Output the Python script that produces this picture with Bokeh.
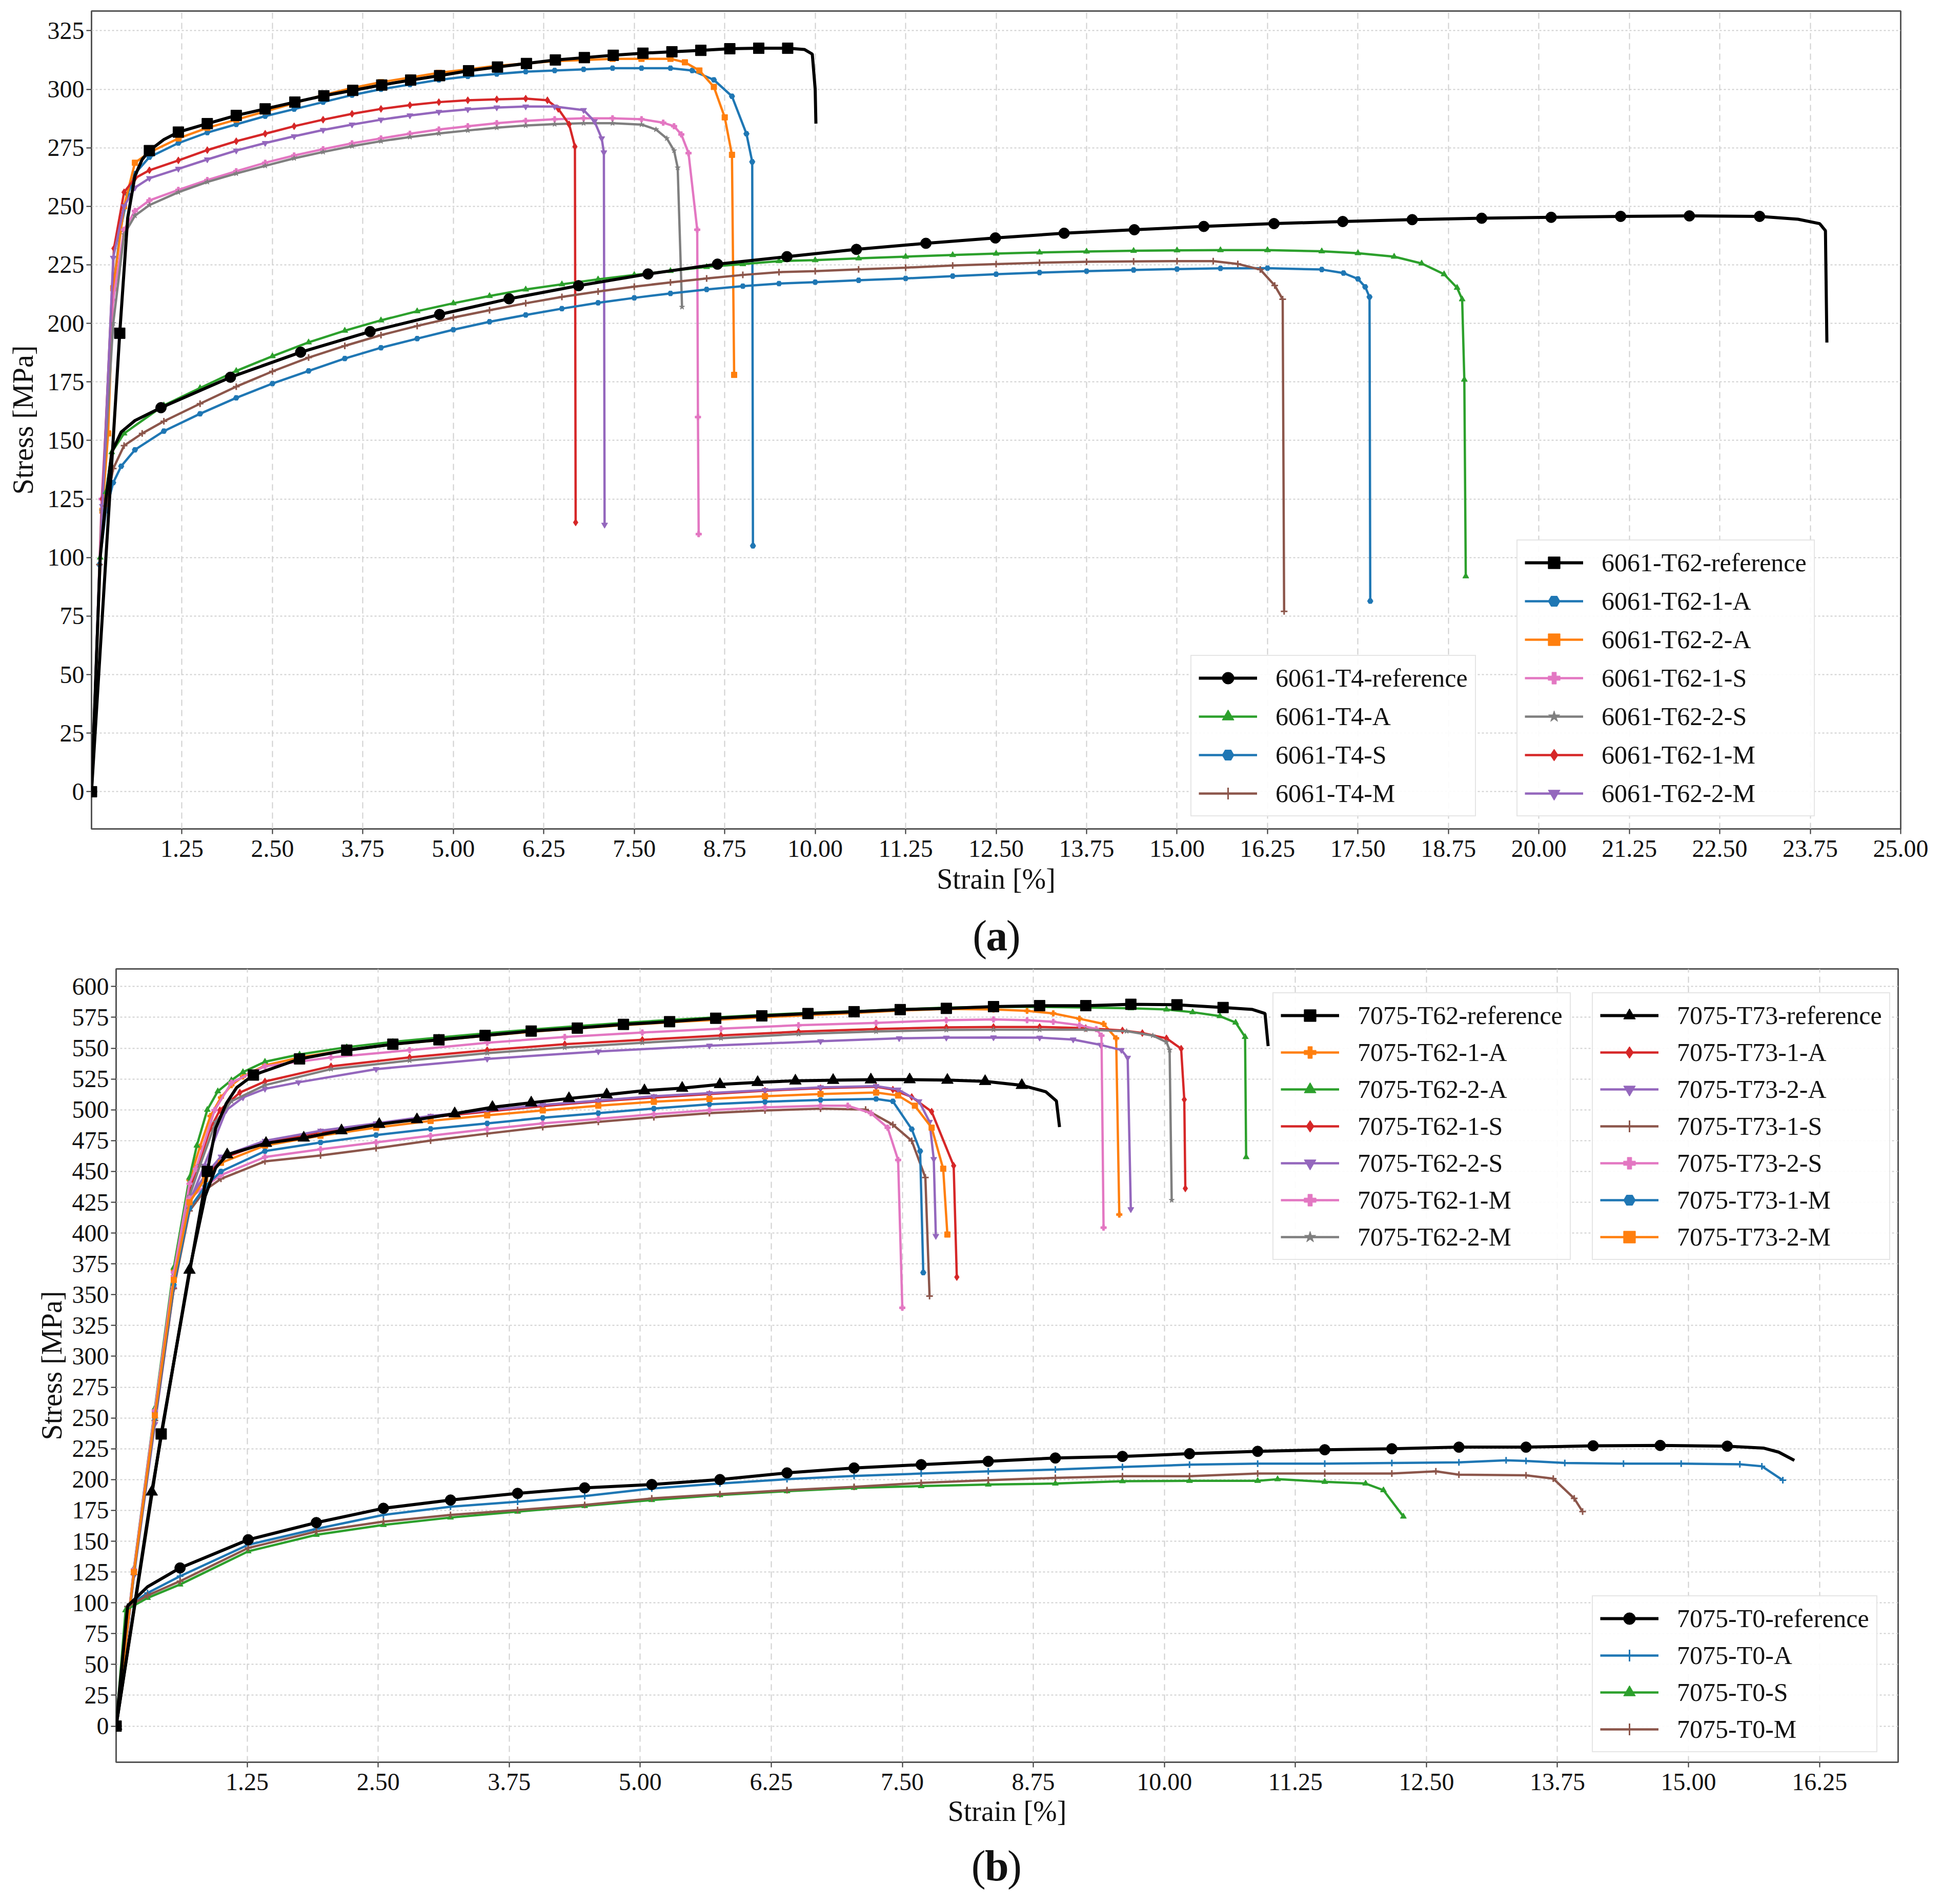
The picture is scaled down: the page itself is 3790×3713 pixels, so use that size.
from bokeh.plotting import figure
from bokeh.models import Range1d, FixedTicker, PrintfTickFormatter, Legend, LegendItem, Spacer
from bokeh.core.properties import value
from bokeh.layouts import column, row
from bokeh.embed import file_html
from bokeh.resources import INLINE

FONT = "Liberation Serif"
C_BLUE, C_ORANGE, C_GREEN, C_RED = "#1f77b4", "#ff7f0e", "#2ca02c", "#d62728"
C_PURPLE, C_BROWN, C_PINK, C_GRAY = "#9467bd", "#8c564b", "#e377c2", "#7f7f7f"

# ---------------- Panel (a): 6061 ----------------
A_XTICKS = [1.25, 2.5, 3.75, 5.0, 6.25, 7.5, 8.75, 10.0, 11.25, 12.5, 13.75, 15.0, 16.25, 17.5, 18.75,
            20.0, 21.25, 22.5, 23.75, 25.0]
A_YTICKS = list(range(0, 326, 25))

T62REF_MX = [0, 0.39, 0.8, 1.2, 1.6, 2.0, 2.4, 2.81, 3.21, 3.61, 4.01, 4.41, 4.81, 5.21, 5.61, 6.01, 6.41,
             6.81, 7.21, 7.62, 8.02, 8.42, 8.82, 9.22, 9.62]
T62REF_MY = [0, 195.8, 273.8, 281.7, 285.3, 288.8, 291.6, 294.5, 297.2, 299.5, 301.8, 303.9, 305.8, 307.9,
             309.5, 311, 312.5, 313.5, 314.5, 315.4, 316, 316.6, 317.3, 317.5, 317.5]
T62REF_X = [0, 0.39, 0.5, 0.6, 0.7, 0.8, 1.0, 1.2, 1.6, 2.0, 2.4, 2.81, 3.21, 3.61, 4.01, 4.41, 4.81, 5.21,
            5.61, 6.01, 6.41, 6.81, 7.21, 7.62, 8.02, 8.42, 8.82, 9.22, 9.62, 9.85, 9.96, 10.0, 10.01]
T62REF_Y = [0, 195.8, 245, 263, 270, 273.8, 278.5, 281.7, 285.3, 288.8, 291.6, 294.5, 297.2, 299.5, 301.8,
            303.9, 305.8, 307.9, 309.5, 311, 312.5, 313.5, 314.5, 315.4, 316, 316.6, 317.3, 317.5, 317.5,
            317, 315, 300, 285.3]

T62_1A_X = [0, 0.15, 0.3, 0.4, 0.5, 0.6, 0.8, 1.2, 1.6, 2.0, 2.4, 2.8, 3.2, 3.6, 4.0, 4.4, 4.8, 5.2, 5.6,
            6.0, 6.4, 6.8, 7.2, 7.6, 8.0, 8.3, 8.6, 8.85, 9.05, 9.13, 9.14]
T62_1A_Y = [0, 125, 215, 240, 255, 264, 271, 277, 281.5, 285, 288.5, 291.5, 294.5, 297.5, 300, 302, 304,
            305.5, 306.5, 307.5, 308, 308.5, 309, 309, 309, 308, 304, 297, 281, 269, 105]

T62_2A_X = [0, 0.15, 0.23, 0.3, 0.45, 0.6, 0.8, 1.2, 1.6, 2.0, 2.4, 2.8, 3.2, 3.6, 4.0, 4.4, 4.8, 5.2, 5.6,
            6.0, 6.4, 6.8, 7.2, 7.6, 8.0, 8.2, 8.4, 8.6, 8.75, 8.85, 8.88]
T62_2A_Y = [0, 120, 153, 215, 250, 268.6, 273, 279, 283.5, 287, 290.5, 294, 297.5, 300.5, 303, 305, 307,
            308.5, 310, 311, 312, 312.5, 313, 313, 313, 311.5, 308, 301, 288, 272, 178]

T62_1S_X = [0, 0.14, 0.3, 0.45, 0.6, 0.8, 1.2, 1.6, 2.0, 2.4, 2.8, 3.2, 3.6, 4.0, 4.4, 4.8, 5.2, 5.6, 6.0,
            6.4, 6.8, 7.2, 7.6, 7.9, 8.05, 8.15, 8.25, 8.37, 8.38, 8.39]
T62_1S_Y = [0, 125, 210, 240, 248, 252.5, 257, 261.2, 265, 268.6, 271.7, 274.4, 276.9, 279, 281, 282.8,
            284.2, 285.5, 286.5, 287.2, 287.6, 287.6, 287.2, 285.7, 284.2, 280.7, 272.7, 240, 160, 110]

T62_2S_X = [0, 0.14, 0.3, 0.45, 0.6, 0.8, 1.2, 1.6, 2.0, 2.4, 2.8, 3.2, 3.6, 4.0, 4.4, 4.8, 5.2, 5.6, 6.0,
            6.4, 6.8, 7.2, 7.6, 7.8, 7.95, 8.05, 8.1, 8.16]
T62_2S_Y = [0, 120, 200, 238, 246, 250.5, 256, 260.4, 264, 267.3, 270.5, 273.2, 275.7, 277.8, 279.6, 281.1,
            282.4, 283.6, 284.5, 285.1, 285.5, 285.5, 284.9, 282.8, 279, 273.8, 266.5, 207]

T62_1M_X = [0, 0.15, 0.31, 0.45, 0.6, 0.8, 1.2, 1.6, 2.0, 2.4, 2.8, 3.2, 3.6, 4.0, 4.4, 4.8, 5.2, 5.6, 6.0,
            6.3, 6.45, 6.6, 6.68, 6.69]
T62_1M_Y = [0, 125, 232, 256, 262, 265.4, 269.6, 274, 277.8, 281, 284.2, 287, 289.5, 291.6, 293.2, 294.5,
            295.3, 295.7, 296, 295.3, 291.6, 285, 275.5, 115]

T62_2M_X = [0, 0.15, 0.3, 0.45, 0.6, 0.8, 1.2, 1.6, 2.0, 2.4, 2.8, 3.2, 3.6, 4.0, 4.4, 4.8, 5.2, 5.6, 6.0,
            6.4, 6.8, 6.95, 7.05, 7.08, 7.09]
T62_2M_Y = [0, 122, 228, 250, 258, 262, 266, 270, 273.8, 277, 279.9, 282.6, 284.9, 287, 288.8, 290.3,
            291.4, 292.2, 292.6, 292.6, 291.1, 286.3, 279, 273, 114]

T4REF_MX = [0, 0.96, 1.92, 2.89, 3.85, 4.81, 5.77, 6.73, 7.69, 8.65, 9.61, 10.57, 11.53, 12.49, 13.44,
            14.41, 15.37, 16.34, 17.29, 18.25, 19.21, 20.17, 21.13, 22.08, 23.05]
T4REF_MY = [0, 164, 177, 187.7, 196.5, 203.8, 210.5, 216.1, 221.1, 225.3, 228.5, 231.6, 234.2, 236.5,
            238.5, 240, 241.4, 242.6, 243.5, 244.3, 244.9, 245.3, 245.7, 245.9, 245.7]
T4REF_X = [0, 0.12, 0.2, 0.28, 0.41, 0.6] + T4REF_MX[1:] + [23.58, 23.88, 23.96, 23.98]
T4REF_Y = [0, 100, 125, 145, 153.6, 158.5] + T4REF_MY[1:] + [244.5, 242.6, 239.6, 191.8]

T4A_X = [0, 0.12, 0.2, 0.28, 0.45, 1.0, 1.5, 2.0, 2.5, 3.0, 3.5, 4.0, 4.5, 5.0, 5.5, 6.0, 6.5, 7.0, 7.5,
         8.0, 8.5, 9.0, 9.5, 10.0, 10.6, 11.25, 11.9, 12.5, 13.1, 13.75, 14.4, 15.0, 15.6, 16.25, 17.0,
         17.5, 18.0, 18.38, 18.69, 18.87, 18.94, 18.97, 18.99]
T4A_Y = [0, 100, 128, 145, 153, 165, 172.4, 179.7, 186, 191.9, 196.9, 201.3, 205.2, 208.6, 211.7, 214.5,
         216.7, 218.8, 220.7, 222.4, 224.1, 225.3, 226.6, 227, 227.8, 228.5, 229.2, 229.8, 230.3, 230.7,
         231, 231.2, 231.3, 231.3, 230.8, 230, 228.5, 225.6, 221, 215.2, 210.3, 176, 92]

T4S_X = [0, 0.11, 0.2, 0.3, 0.41, 0.6, 1.0, 1.5, 2.0, 2.5, 3.0, 3.5, 4.0, 4.5, 5.0, 5.5, 6.0, 6.5, 7.0,
         7.5, 8.0, 8.5, 9.0, 9.5, 10.0, 10.6, 11.25, 11.9, 12.5, 13.1, 13.75, 14.4, 15.0, 15.6, 16.25,
         17.0, 17.3, 17.5, 17.6, 17.66, 17.67]
T4S_Y = [0, 97, 120, 132, 139, 146, 154, 161.4, 168.2, 174.3, 179.7, 185, 189.6, 193.5, 197.3, 200.7,
         203.6, 206.3, 208.8, 210.9, 212.8, 214.5, 215.9, 217, 217.6, 218.4, 219.2, 220.2, 221, 221.7,
         222.3, 222.8, 223.2, 223.5, 223.6, 223, 221.5, 219, 215.6, 211.3, 81.4]

T4M_X = [0, 0.11, 0.2, 0.3, 0.45, 0.7, 1.0, 1.5, 2.0, 2.5, 3.0, 3.5, 4.0, 4.5, 5.0, 5.5, 6.0, 6.5, 7.0,
         7.5, 8.0, 8.5, 9.0, 9.5, 10.0, 10.6, 11.25, 11.9, 12.5, 13.1, 13.75, 14.4, 15.0, 15.5, 15.84,
         16.15, 16.35, 16.46, 16.48]
T4M_Y = [0, 97, 122, 138, 147.8, 153, 158.2, 165.7, 173, 179.5, 185.4, 190.4, 195, 198.9, 202.5, 205.6,
         208.6, 211.3, 213.6, 215.7, 217.5, 219.2, 220.7, 221.9, 222.3, 223.1, 223.8, 224.7, 225.3, 225.9,
         226.3, 226.5, 226.6, 226.6, 225.4, 223, 216.2, 210.3, 77]

# ---------------- Panel (b): 7075 ----------------
B_XTICKS = [1.25, 2.5, 3.75, 5.0, 6.25, 7.5, 8.75, 10.0, 11.25, 12.5, 13.75, 15.0, 16.25]
B_YTICKS = list(range(0, 601, 25))

B62REF_MX = [0, 0.43, 0.87, 1.31, 1.75, 2.2, 2.64, 3.08, 3.52, 3.96, 4.4, 4.84, 5.28, 5.72, 6.16, 6.6,
             7.04, 7.48, 7.92, 8.37, 8.81, 9.25, 9.68, 10.12, 10.56]
B62REF_MY = [0, 237, 450, 528.2, 541.3, 548.4, 553.2, 556.8, 560.3, 563.9, 566.3, 569.3, 571.5, 574.3,
             576.2, 578.1, 579.6, 581.3, 582.3, 583.7, 584.5, 584.5, 585.6, 585.2, 583]
B62REF_X = [0, 0.43, 0.87, 0.95, 1.05, 1.15] + B62REF_MX[3:] + [10.84, 10.96, 10.99]
B62REF_Y = [0, 237, 450, 485, 505, 518] + B62REF_MY[3:] + [581.4, 578.2, 551.7]

B62_1A_X = [0, 0.17, 0.37, 0.55, 0.7, 0.8, 0.9, 1.0, 1.1, 1.21, 1.42, 1.75, 2.2, 2.64, 3.08, 3.52, 3.96,
            4.4, 4.84, 5.28, 5.72, 6.16, 6.6, 7.04, 7.47, 7.92, 8.37, 8.69, 8.94, 9.19, 9.42, 9.54, 9.57]
B62_1A_Y = [0, 126, 255, 370, 443, 470, 495, 510, 520, 527, 536, 542.5, 548.5, 553, 556.5, 560, 563.3,
            566, 568.6, 571, 573, 575, 576.8, 578.5, 580.5, 581.8, 581.4, 580.3, 578.2, 573.9, 569.7, 558, 415]

B62_2A_X = [0, 0.17, 0.37, 0.55, 0.7, 0.77, 0.87, 0.97, 1.1, 1.21, 1.42, 1.75, 2.2, 2.64, 3.08, 3.52, 3.96,
            4.4, 4.84, 5.28, 5.72, 6.16, 6.6, 7.04, 7.48, 7.92, 8.37, 8.81, 9.25, 9.68, 10.02, 10.27, 10.53,
            10.68, 10.77, 10.78]
B62_2A_Y = [0, 128, 258, 372, 445, 471, 500, 515, 524, 530.6, 539, 544.9, 550.8, 555.1, 558.7, 562, 565.1,
            567.9, 570.5, 572.9, 575, 577, 578.6, 580, 581.5, 582.9, 583.5, 583.5, 583, 582.4, 581.4, 579.2,
            576, 570.8, 559.1, 461.6]

B62_1S_X = [0, 0.17, 0.37, 0.55, 0.7, 0.78, 0.9, 0.99, 1.18, 1.42, 2.05, 2.8, 3.54, 4.28, 5.02, 5.77, 6.51,
            7.25, 7.92, 8.37, 8.81, 9.25, 9.6, 9.79, 10.02, 10.16, 10.19, 10.2]
B62_1S_Y = [0, 125, 252, 365, 435, 454.6, 485, 499.7, 514, 523, 535.3, 542.5, 548.4, 553.2, 556.8, 560.3,
            563.4, 565.5, 566.9, 567.2, 567.2, 566.3, 564.4, 562.3, 558, 549.6, 508.3, 436.2]

B62_2S_X = [0, 0.17, 0.37, 0.55, 0.7, 0.84, 1.05, 1.21, 1.42, 1.74, 2.48, 3.54, 4.6, 5.66, 6.72, 7.47, 7.92,
            8.37, 8.81, 9.13, 9.39, 9.59, 9.65, 9.68]
B62_2S_Y = [0, 122, 245, 355, 425, 454.6, 499.7, 510, 517, 522.3, 533, 541.3, 547.3, 552, 555.6, 558,
            558.5, 558.7, 558.5, 557, 552.7, 548.5, 542.2, 419.3]

B62_1M_X = [0, 0.17, 0.37, 0.55, 0.7, 0.76, 0.94, 1.1, 1.42, 2.05, 2.8, 3.54, 4.28, 5.02, 5.77, 6.51, 7.25,
            7.92, 8.37, 8.69, 8.94, 9.19, 9.35, 9.4, 9.42]
B62_1M_Y = [0, 127, 256, 368, 440, 452, 499.7, 522, 535.3, 542.5, 548.4, 554.4, 559.1, 562.7, 565.8, 568.6,
            570.5, 572.7, 573.3, 572.7, 571.4, 568.6, 565.5, 560.2, 404.4]

B62_2M_X = [0, 0.17, 0.37, 0.55, 0.7, 0.8, 0.95, 1.1, 1.42, 2.05, 2.8, 3.54, 4.28, 5.02, 5.77, 6.51, 7.25,
            7.92, 8.37, 8.81, 9.25, 9.64, 9.89, 10.02, 10.05, 10.07]
B62_2M_Y = [0, 124, 250, 362, 430, 455, 490, 507, 520, 533, 540, 546, 550.5, 554.4, 558, 561.5, 563.5,
            564.8, 565, 565, 565, 563.8, 560.2, 554.9, 548.5, 426.7]

B73REF_MX = [0, 0.34, 0.70, 1.06, 1.43, 1.79, 2.15, 2.51, 2.87, 3.23, 3.59, 3.96, 4.32, 4.68, 5.04, 5.40,
             5.76, 6.12, 6.48, 6.84, 7.20, 7.57, 7.93, 8.29, 8.64]
B73REF_MY = [0, 190, 370, 463.6, 472.9, 477.2, 483.1, 488.3, 492.1, 496.9, 502.1, 505.7, 509.2, 512.3,
             515.6, 517.6, 520.6, 522.3, 523.5, 524, 524.4, 524.5, 524.1, 523.1, 519.9]
B73REF_X = [0, 0.34, 0.70, 0.85, 0.95] + B73REF_MX[3:] + [8.87, 8.97, 9.0]
B73REF_Y = [0, 190, 370, 430, 453] + B73REF_MY[3:] + [514.6, 507.2, 486]

B73_1A_X = [0, 0.17, 0.37, 0.55, 0.7, 0.85, 1.0, 1.42, 1.95, 2.48, 3.0, 3.54, 4.07, 4.6, 5.13, 5.66, 6.19,
            6.72, 7.25, 7.41, 7.59, 7.78, 7.99, 8.02]
B73_1A_Y = [0, 125, 252, 362, 425, 445, 460, 473.6, 482, 487.9, 494, 498.5, 503, 506.9, 510, 512.8, 515.5,
            517.6, 518.7, 516.4, 510.4, 498.5, 454.6, 364.3]

B73_2A_X = [0, 0.17, 0.37, 0.55, 0.7, 0.85, 1.0, 1.42, 1.95, 2.48, 3.0, 3.54, 4.07, 4.6, 5.13, 5.66, 6.19,
            6.72, 7.25, 7.46, 7.66, 7.76, 7.8, 7.82]
B73_2A_Y = [0, 126, 254, 364, 428, 447, 462, 474.8, 483, 489, 495, 499.5, 504, 507.5, 511, 513.5, 516,
            518.2, 519.2, 516.4, 506.9, 490.2, 460, 397.6]

B73_1S_X = [0, 0.17, 0.37, 0.55, 0.7, 0.85, 1.0, 1.42, 1.95, 2.48, 3.0, 3.54, 4.07, 4.6, 5.13, 5.66, 6.19,
            6.72, 7.15, 7.41, 7.59, 7.72, 7.76]
B73_1S_Y = [0, 123, 248, 355, 418, 435, 444, 458.2, 463, 468.8, 475, 480.7, 486, 490.2, 494, 497.3, 499.5,
            500.9, 500.2, 487.9, 474.8, 445.1, 348.9]

B73_2S_X = [0, 0.17, 0.37, 0.55, 0.7, 0.85, 1.0, 1.42, 1.95, 2.48, 3.0, 3.54, 4.07, 4.6, 5.13, 5.66, 6.19,
            6.72, 6.98, 7.20, 7.36, 7.46, 7.50]
B73_2S_Y = [0, 127, 256, 365, 428, 438, 447, 461.7, 468, 473.6, 479, 484.3, 489, 492.6, 496.5, 499.7, 502,
            503.3, 503.3, 497.3, 485.5, 459.3, 339.4]

B73_1M_X = [0, 0.17, 0.37, 0.55, 0.7, 0.85, 1.0, 1.42, 1.95, 2.48, 3.0, 3.54, 4.07, 4.6, 5.13, 5.66, 6.19,
            6.72, 7.25, 7.41, 7.59, 7.67, 7.70]
B73_1M_Y = [0, 124, 250, 358, 420, 438, 450, 466.5, 473.5, 479.5, 484.5, 489, 493.5, 497.3, 501, 504.5,
            506.5, 508, 508.8, 506.9, 484.3, 466.5, 367.9]

B73_2M_X = [0, 0.17, 0.37, 0.55, 0.7, 0.85, 1.0, 1.42, 1.95, 2.48, 3.0, 3.54, 4.07, 4.6, 5.13, 5.66, 6.19,
            6.72, 7.25, 7.46, 7.62, 7.78, 7.89, 7.93]
B73_2M_Y = [0, 125, 252, 362, 425, 444, 457, 471, 479, 485.5, 491, 495.5, 499.5, 503.3, 506.5, 508.8, 511,
            512.8, 514, 511.6, 503.3, 485.5, 452.2, 398.8]

B0REF_MX = [0, 0.61, 1.26, 1.91, 2.55, 3.19, 3.83, 4.47, 5.11, 5.76, 6.40, 7.04, 7.68, 8.32, 8.96, 9.60,
            10.24, 10.89, 11.53, 12.17, 12.81, 13.45, 14.09, 14.73, 15.37]
B0REF_MY = [0, 128.3, 151.2, 165.1, 176.7, 183.4, 188.8, 193.3, 196, 200, 205.4, 209.4, 212.1, 214.8,
            217.5, 218.8, 221, 222.9, 224.2, 225, 226.3, 226.3, 227.4, 227.7, 227.1]
B0REF_X = [0, 0.11, 0.3] + B0REF_MX[1:] + [15.72, 15.86, 16.01]
B0REF_Y = [0, 97.5, 113] + B0REF_MY[1:] + [225.5, 222.3, 215.6]

B0A_X = [0, 0.11, 0.3, 0.61, 1.26, 1.91, 2.55, 3.19, 3.83, 4.47, 5.11, 5.76, 6.40, 7.04, 7.68, 8.32, 8.96,
         9.60, 10.24, 10.89, 11.53, 12.17, 12.81, 13.26, 13.45, 13.82, 14.38, 14.93, 15.49, 15.70, 15.90]
B0A_Y = [0, 97, 108, 121.6, 147.1, 160, 171.3, 178, 182, 186.6, 192.8, 196.8, 200.3, 203, 204.9, 206.7,
         208.1, 210.2, 212.1, 212.9, 212.9, 213.5, 214, 215.6, 215.1, 213.5, 212.9, 212.9, 212.4, 210.8, 199.5]

B0S_X = [0, 0.09, 0.3, 0.61, 1.26, 1.91, 2.55, 3.19, 3.83, 4.47, 5.11, 5.76, 6.40, 7.04, 7.68, 8.32, 8.96,
         9.60, 10.24, 10.89, 11.08, 11.53, 11.92, 12.09, 12.28]
B0S_Y = [0, 94, 104, 114.9, 141.8, 155.2, 163.2, 169.2, 174, 178.6, 183.4, 187.4, 190.6, 193.3, 194.7, 196,
         196.8, 198.7, 199, 199, 200.3, 198.2, 196.8, 191.4, 170]

B0M_X = [0, 0.11, 0.3, 0.61, 1.26, 1.91, 2.55, 3.19, 3.83, 4.47, 5.11, 5.76, 6.40, 7.04, 7.68, 8.32, 8.96,
         9.60, 10.24, 10.89, 11.53, 12.17, 12.59, 12.81, 13.45, 13.71, 13.91, 13.99]
B0M_Y = [0, 97, 106, 117.6, 144.5, 157.9, 165.9, 171.3, 175.3, 179.4, 184.7, 188.2, 191.4, 194.1, 197.3,
         199.5, 201.4, 202.7, 202.7, 204.9, 204.9, 204.9, 206.7, 204, 203.5, 200.8, 184.7, 174]


def make_fig(width, height, xr, yr, xticks, yticks, borders, ylab_standoff, xlab_standoff):
    p = figure(width=width, height=height, x_range=Range1d(*xr), y_range=Range1d(*yr),
               output_backend="svg", toolbar_location=None,
               min_border_left=borders[0], min_border_right=borders[1],
               min_border_top=borders[2], min_border_bottom=borders[3])
    p.xaxis.ticker = FixedTicker(ticks=xticks)
    p.yaxis.ticker = FixedTicker(ticks=yticks)
    p.xaxis.formatter = PrintfTickFormatter(format="%.2f")
    p.xaxis.axis_label = "Strain [%]"
    p.yaxis.axis_label = "Stress [MPa]"
    for ax in (p.xaxis[0], p.yaxis[0]):
        ax.axis_label_text_font = FONT
        ax.axis_label_text_font_size = "56px"
        ax.axis_label_text_font_style = "normal"
        ax.major_label_text_font = FONT
        ax.major_label_text_font_size = "48px"
        ax.major_label_text_color = "#111111"
        ax.axis_label_text_color = "#111111"
        ax.major_tick_out = 10
        ax.major_tick_in = 0
        ax.major_tick_line_width = 2
        ax.major_tick_line_color = "#333333"
        ax.minor_tick_line_color = None
        ax.axis_line_color = None
    p.xaxis.major_label_standoff = 12
    p.xaxis.axis_label_standoff = xlab_standoff
    p.yaxis.major_label_standoff = 4
    p.yaxis.axis_label_standoff = ylab_standoff
    p.xgrid.grid_line_color = "#d0d0d0"
    p.xgrid.grid_line_dash = "12 8"
    p.xgrid.grid_line_width = 2
    p.ygrid.grid_line_color = "#d0d0d0"
    p.ygrid.grid_line_dash = "4 4"
    p.ygrid.grid_line_width = 2
    p.outline_line_color = "#555555"
    p.outline_line_width = 3
    p.background_fill_color = "white"
    return p


def series(p, x, y, color, marker, size, lw, mx=None, my=None):
    r1 = p.line(x, y, line_color=color, line_width=lw)
    if mx is None:
        mx, my = x, y
    mlw = 3 if marker in ("cross", "x") else 1
    r2 = p.scatter(mx, my, marker=marker, size=size, fill_color=color, line_color=color, line_width=mlw)
    return [r1, r2]


def legend(p, items, loc, spacing):
    lg = Legend(items=[LegendItem(label=l, renderers=r) for l, r in items], location=loc,
                label_text_font=FONT, label_text_font_size="50px", label_text_color="#111111",
                glyph_width=114, glyph_height=58, label_height=58, label_standoff=36,
                padding=14, spacing=spacing, margin=0,
                border_line_color="#cccccc", border_line_width=2,
                background_fill_color="white", background_fill_alpha=0.9)
    p.add_layout(lg, "center")


def caption_fig(letter, height, y_mid, letter_w, x_center=1887, width=3774):
    c = figure(width=width, height=height, x_range=Range1d(0, width), y_range=Range1d(0, height),
               x_axis_type=None, y_axis_type=None, output_backend="svg", toolbar_location=None,
               min_border_left=0, min_border_right=0, min_border_top=0, min_border_bottom=0)
    c.outline_line_color = None
    pw = 28
    x0 = x_center - (2 * pw + letter_w) / 2
    kw = dict(text_font=value(FONT), text_font_size="84px", text_color="#111111",
              text_baseline="middle", text_align="left")
    c.text(x=[x0, x0 + pw + letter_w], y=[y_mid, y_mid], text=["(", ")"], text_font_style="normal", **kw)
    c.text(x=[x0 + pw], y=[y_mid], text=[letter], text_font_style="bold", **kw)
    return c


# ---- Panel (a)
pa = make_fig(3774, 1766, (0, 25), (-15.9, 333.4), A_XTICKS, A_YTICKS, (178, 67, 21, 150), 14, 9)
SM, BG, LW, LWR = 11, 21, 4.5, 6
a_1a = series(pa, T62_1A_X, T62_1A_Y, C_BLUE, "hex", SM, LW)
a_2a = series(pa, T62_2A_X, T62_2A_Y, C_ORANGE, "square", SM, LW)
a_1s = series(pa, T62_1S_X, T62_1S_Y, C_PINK, "plus", SM, LW)
a_2s = series(pa, T62_2S_X, T62_2S_Y, C_GRAY, "star", SM, LW)
a_1m = series(pa, T62_1M_X, T62_1M_Y, C_RED, "diamond", SM + 3, LW)
a_2m = series(pa, T62_2M_X, T62_2M_Y, C_PURPLE, "inverted_triangle", SM + 1, LW)
a_t4a = series(pa, T4A_X, T4A_Y, C_GREEN, "triangle", SM + 1, LW)
a_t4s = series(pa, T4S_X, T4S_Y, C_BLUE, "hex", SM, LW)
a_t4m = series(pa, T4M_X, T4M_Y, C_BROWN, "cross", SM + 2, LW)
a_t4r = series(pa, T4REF_X, T4REF_Y, "black", "circle", BG, LWR, T4REF_MX, T4REF_MY)
a_t62r = series(pa, T62REF_X, T62REF_Y, "black", "square", BG, LWR, T62REF_MX, T62REF_MY)

legend(pa, [("6061-T4-reference", a_t4r), ("6061-T4-A", a_t4a), ("6061-T4-S", a_t4s),
            ("6061-T4-M", a_t4m)], (2144, 24), 17)
legend(pa, [("6061-T62-reference", a_t62r), ("6061-T62-1-A", a_1a), ("6061-T62-2-A", a_2a),
            ("6061-T62-1-S", a_1s), ("6061-T62-2-S", a_2s), ("6061-T62-1-M", a_1m),
            ("6061-T62-2-M", a_2m)], (2780, 24), 17)

cap_a = caption_fig("a", 113, 55, 42)

# ---- Panel (b)
pb = make_fig(3721, 1707, (0, 17.0), (-29.3, 614.3), B_XTICKS, B_YTICKS, (173, 72, 10, 150), 6, 7)
b_62_1a = series(pb, B62_1A_X, B62_1A_Y, C_ORANGE, "plus", SM, LW)
b_62_2a = series(pb, B62_2A_X, B62_2A_Y, C_GREEN, "triangle", SM + 1, LW)
b_62_1s = series(pb, B62_1S_X, B62_1S_Y, C_RED, "diamond", SM + 3, LW)
b_62_2s = series(pb, B62_2S_X, B62_2S_Y, C_PURPLE, "inverted_triangle", SM + 1, LW)
b_62_1m = series(pb, B62_1M_X, B62_1M_Y, C_PINK, "plus", SM, LW)
b_62_2m = series(pb, B62_2M_X, B62_2M_Y, C_GRAY, "star", SM, LW)
b_73_1a = series(pb, B73_1A_X, B73_1A_Y, C_RED, "diamond", SM + 3, LW)
b_73_2a = series(pb, B73_2A_X, B73_2A_Y, C_PURPLE, "inverted_triangle", SM + 1, LW)
b_73_1s = series(pb, B73_1S_X, B73_1S_Y, C_BROWN, "cross", SM + 2, LW)
b_73_2s = series(pb, B73_2S_X, B73_2S_Y, C_PINK, "plus", SM, LW)
b_73_1m = series(pb, B73_1M_X, B73_1M_Y, C_BLUE, "hex", SM, LW)
b_73_2m = series(pb, B73_2M_X, B73_2M_Y, C_ORANGE, "square", SM, LW)
b_0a = series(pb, B0A_X, B0A_Y, C_BLUE, "cross", SM + 2, LW)
b_0s = series(pb, B0S_X, B0S_Y, C_GREEN, "triangle", SM + 1, LW)
b_0m = series(pb, B0M_X, B0M_Y, C_BROWN, "cross", SM + 2, LW)
b_0r = series(pb, B0REF_X, B0REF_Y, "black", "circle", BG, LWR, B0REF_MX, B0REF_MY)
b_73r = series(pb, B73REF_X, B73REF_Y, "black", "triangle", BG + 2, LWR, B73REF_MX, B73REF_MY)
b_62r = series(pb, B62REF_X, B62REF_Y, "black", "square", BG, LWR, B62REF_MX, B62REF_MY)

legend(pb, [("7075-T62-reference", b_62r), ("7075-T62-1-A", b_62_1a), ("7075-T62-2-A", b_62_2a),
            ("7075-T62-1-S", b_62_1s), ("7075-T62-2-S", b_62_2s), ("7075-T62-1-M", b_62_1m),
            ("7075-T62-2-M", b_62_2m)], (2256, 979), 14)
legend(pb, [("7075-T73-reference", b_73r), ("7075-T73-1-A", b_73_1a), ("7075-T73-2-A", b_73_2a),
            ("7075-T73-1-S", b_73_1s), ("7075-T73-2-S", b_73_2s), ("7075-T73-1-M", b_73_1m),
            ("7075-T73-2-M", b_73_2m)], (2879, 979), 14)
legend(pb, [("7075-T0-reference", b_0r), ("7075-T0-A", b_0a), ("7075-T0-S", b_0s),
            ("7075-T0-M", b_0m)], (2879, 19), 14)

cap_b = caption_fig("b", 110, 58, 47)

page = column(pa, cap_a, row(Spacer(width=53, height=10), pb), cap_b, spacing=0)
open("out.html", "w").write(file_html(page, INLINE))
